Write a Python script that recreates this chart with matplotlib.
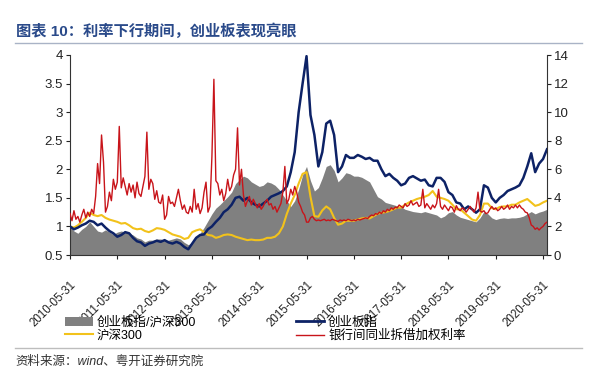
import numpy as np
import matplotlib
matplotlib.use('Agg')
import matplotlib.pyplot as plt
from matplotlib.lines import Line2D
from matplotlib.patches import Patch

plt.rcParams['font.family'] = ['Liberation Sans', 'Noto Sans CJK SC', 'DejaVu Sans']
plt.rcParams['axes.unicode_minus'] = False

title = '图表 10：利率下行期间，创业板表现亮眼'
source = '资料来源：wind、粤开证券研究院'
tick_labels = ['2010-05-31', '2011-05-31', '2012-05-31', '2013-05-31', '2014-05-31',
               '2015-05-31', '2016-05-31', '2017-05-31', '2018-05-31', '2019-05-31',
               '2020-05-31']
legend_labels = ['创业板指/沪深300', '沪深300', '创业板指', '银行间同业拆借加权利率']

# monthly values, 2010-05 ... 2020-06 (normalised, left axis)
cyb = [1.00, 0.95, 0.98, 1.02, 1.05, 1.10, 1.08, 1.02, 1.05, 0.98, 0.92, 0.88,
       0.82, 0.85, 0.90, 0.88, 0.80, 0.74, 0.72, 0.66, 0.70, 0.72, 0.75, 0.73,
       0.76, 0.72, 0.70, 0.73, 0.70, 0.64, 0.60, 0.70, 0.80, 0.85, 0.86, 0.95,
       1.00, 1.08, 1.15, 1.25, 1.30, 1.38, 1.50, 1.52, 1.45, 1.50, 1.42, 1.38,
       1.35, 1.40, 1.45, 1.52, 1.55, 1.58, 1.62, 1.70, 1.95, 2.30, 3.00, 3.50,
       3.98, 2.95, 2.60, 2.05, 2.30, 2.80, 2.85, 2.60, 1.95, 2.05, 2.25, 2.20,
       2.20, 2.25, 2.22, 2.18, 2.20, 2.15, 2.15, 2.00, 1.88, 1.92, 1.85, 1.80,
       1.72, 1.75, 1.85, 1.88, 1.84, 1.80, 1.82, 1.72, 1.70, 1.85, 1.85, 1.78,
       1.60, 1.55, 1.42, 1.40, 1.30, 1.35, 1.30, 1.24, 1.30, 1.72, 1.68, 1.50,
       1.42, 1.50, 1.55, 1.62, 1.65, 1.68, 1.72, 1.85, 2.05, 2.28, 1.95, 2.10,
       2.18, 2.35]

hs300 = [1.00, 0.98, 1.02, 1.08, 1.15, 1.24, 1.20, 1.18, 1.20, 1.15, 1.12, 1.10,
         1.08, 1.05, 1.06, 1.02, 0.97, 0.95, 0.96, 0.92, 0.90, 0.93, 0.97, 0.96,
         0.94, 0.90, 0.86, 0.84, 0.82, 0.78, 0.80, 0.90, 0.93, 0.95, 0.90, 0.85,
         0.84, 0.80, 0.82, 0.85, 0.86, 0.85, 0.82, 0.80, 0.78, 0.76, 0.77, 0.76,
         0.76, 0.77, 0.80, 0.80, 0.82, 0.88, 1.00, 1.22, 1.40, 1.55, 1.75, 1.92,
         1.95, 1.52, 1.18, 1.17, 1.28, 1.35, 1.30, 1.15, 1.03, 1.05, 1.10, 1.10,
         1.10, 1.12, 1.14, 1.15, 1.14, 1.18, 1.22, 1.24, 1.25, 1.27, 1.30, 1.33,
         1.33, 1.38, 1.42, 1.45, 1.48, 1.50, 1.52, 1.55, 1.62, 1.52, 1.50, 1.48,
         1.45, 1.38, 1.30, 1.30, 1.24, 1.18, 1.12, 1.10, 1.20, 1.40, 1.40, 1.32,
         1.30, 1.34, 1.35, 1.35, 1.38, 1.38, 1.42, 1.45, 1.48, 1.42, 1.36, 1.38,
         1.42, 1.45]

ratio = [1.00, 0.92, 0.88, 0.95, 1.00, 1.08, 1.00, 0.92, 0.90, 0.94, 0.90, 0.86,
         0.90, 0.92, 0.90, 0.88, 0.85, 0.80, 0.78, 0.73, 0.76, 0.76, 0.78, 0.78,
         0.76, 0.76, 0.78, 0.80, 0.78, 0.72, 0.68, 0.72, 0.82, 0.88, 0.98, 1.10,
         1.22, 1.32, 1.38, 1.45, 1.52, 1.60, 1.75, 1.82, 1.88, 1.85, 1.78, 1.74,
         1.70, 1.72, 1.78, 1.76, 1.72, 1.65, 1.55, 1.45, 1.35, 1.45, 1.65, 1.90,
         2.05, 1.80, 1.62, 1.68, 1.85, 2.05, 2.08, 1.98, 1.78, 1.85, 1.94, 1.92,
         1.88, 1.88, 1.86, 1.82, 1.78, 1.65, 1.52, 1.48, 1.42, 1.40, 1.38, 1.36,
         1.34, 1.30, 1.28, 1.26, 1.25, 1.24, 1.26, 1.24, 1.22, 1.20, 1.15, 1.18,
         1.24, 1.26, 1.20, 1.16, 1.14, 1.12, 1.10, 1.08, 1.15, 1.26, 1.22, 1.15,
         1.12, 1.14, 1.15, 1.14, 1.15, 1.15, 1.16, 1.18, 1.22, 1.26, 1.22, 1.25,
         1.27, 1.30]

# semi-monthly interbank weighted rate (%), right axis
rate = [2.9, 2.4, 3.1, 2.5, 2.7, 2.3, 2.8, 3.2, 2.6, 3.0, 2.7, 3.2,
        2.9, 4.1, 6.4, 5.0, 8.4, 6.5, 3.0, 3.4, 4.4, 3.8, 5.3, 4.6,
        5.1, 9.0, 4.7, 5.4, 4.8, 4.2, 5.0, 4.4, 4.9, 4.0, 5.1, 4.3,
        4.1, 4.8, 5.5, 8.6, 4.6, 5.3, 5.0, 3.9, 4.5, 3.7, 3.6, 4.2,
        2.5, 2.8, 4.1, 3.6, 3.7, 3.4, 4.0, 4.6, 3.8, 3.2, 3.5, 3.0,
        2.9, 3.4, 3.0, 4.6, 3.2, 3.6, 2.9, 3.3, 4.4, 5.1, 3.0, 3.4,
        6.9, 12.3, 5.2, 5.0, 4.2, 4.6, 3.8, 4.3, 5.3, 4.5, 4.8, 5.6,
        6.0, 8.9, 4.9, 6.0, 4.2, 3.4, 3.8, 4.1, 3.5, 3.9, 3.6, 3.3,
        3.6, 3.2, 3.4, 3.7, 3.9, 3.5, 3.6, 3.2, 3.4, 3.0, 3.3, 3.6,
        4.4, 6.2, 3.6, 3.9, 4.6, 4.2, 4.8, 4.4, 3.7, 3.4, 3.0, 2.8,
        2.3, 2.3, 2.6, 2.7, 2.5, 2.4, 2.45, 2.4, 2.45, 2.5, 2.4, 2.45,
        2.4, 2.5, 2.45, 2.4, 2.35, 2.45, 2.4, 2.45, 2.4, 2.5, 2.45, 2.4,
        2.45, 2.4, 2.5, 2.45, 2.5, 2.55, 2.6, 2.55, 2.7, 2.8, 2.75, 2.9,
        2.85, 3.0, 2.9, 3.1, 3.0, 3.2, 3.1, 3.3, 3.2, 3.35, 3.3, 3.5,
        3.4, 3.3, 3.6, 3.4, 3.5, 3.8, 3.5, 3.6, 3.7, 3.4, 3.5, 4.6,
        3.3, 3.6, 3.4, 3.2, 3.5, 3.3, 3.6, 4.6, 3.4, 3.2, 3.5, 3.3,
        3.1, 3.4, 3.3, 3.0, 3.45, 3.2, 3.1, 3.3, 3.2, 3.0, 3.2, 3.4,
        3.2, 3.0, 3.3, 4.4, 3.1, 3.0, 3.1, 2.9, 2.95, 3.2, 3.4, 3.2,
        3.3, 3.1, 3.2, 3.4, 3.2, 3.3, 3.5, 3.2, 3.4, 3.3, 3.5, 3.3,
        3.5, 3.3, 3.2, 3.0, 2.95, 2.6, 2.1, 2.0, 1.8, 1.9, 1.75, 1.9,
        2.0, 2.2, 2.3]

x_month = np.arange(len(cyb)) / 12.0
x_half = np.arange(len(rate)) / 24.0

W, H = 600, 374
fig = plt.figure(figsize=(W / 100, H / 100), dpi=100)
ax = fig.add_axes([70 / W, 1 - 255 / H, 477 / W, 200 / H])

c_gray = '#808080'
c_yel = '#f2c21b'
c_blue = '#0d2266'
c_red = '#c8141a'
c_txt = '#222222'

ax.fill_between(x_month, 0.5, ratio, color=c_gray, lw=0, zorder=1)
ax.plot(x_month, hs300, color=c_yel, lw=1.5, zorder=2)
ax.plot(x_month, cyb, color=c_blue, lw=1.8, zorder=3)

ax2 = ax.twinx()
ax2.plot(x_half, rate, color=c_red, lw=1.0, zorder=4)

ax.set_xlim(0, x_month[-1])
ax.set_ylim(0.5, 4)
ax2.set_ylim(0, 14)
ax.set_yticks(np.arange(0.5, 4.01, 0.5))
ax.set_yticklabels(['%g' % v for v in np.arange(0.5, 4.01, 0.5)])
ax2.set_yticks(np.arange(0, 15, 2))

ax.set_xticks(np.arange(len(tick_labels)))
ax.set_xticklabels(tick_labels, rotation=45, ha='right', rotation_mode='anchor')

for a in (ax, ax2):
    a.spines['top'].set_visible(False)
    for s in a.spines.values():
        s.set_color('#333333')
        s.set_linewidth(0.8)
ax.spines['right'].set_visible(False)
ax2.spines['left'].set_visible(False)
ax2.spines['bottom'].set_visible(False)

ax.tick_params(axis='y', direction='out', length=3, width=0.8, labelsize=9.5,
               colors=c_txt, pad=2)
ax.tick_params(axis='x', direction='out', length=3, width=0.8, labelsize=8.3,
               colors=c_txt, pad=14)
ax2.tick_params(axis='y', direction='out', length=3, width=0.8, labelsize=9.5,
                colors=c_txt, pad=2)

# title and rules
fig.text(16 / W, 1 - 31 / H, title, fontsize=11, fontweight='bold',
         color='#2a4a8a', va='center', ha='left')
fig.add_artist(Line2D([15 / W, 582 / W], [1 - 43 / H] * 2, color='#a9b3c6', lw=1.0))
fig.add_artist(Line2D([15 / W, 582 / W], [1 - 348 / H] * 2, color='#bdbdbd', lw=1.0))
fig.text(15 / W, 1 - 362 / H, source, fontsize=9, style='italic',
         color='#333333', va='center', ha='left')

handles = [Patch(facecolor=c_gray, edgecolor='none'),
           Line2D([], [], color=c_yel, lw=1.5),
           Line2D([], [], color=c_blue, lw=2.0),
           Line2D([], [], color=c_red, lw=1.0)]
leg = fig.legend(handles, legend_labels, ncol=2, loc='upper left',
                 bbox_to_anchor=(65 / W, 1 - 316 / H), frameon=False,
                 fontsize=9, handlelength=2.2, handletextpad=0.35,
                 columnspacing=8.0, labelspacing=0.1, borderaxespad=0,
                 borderpad=0)

fig.savefig('out.png', dpi=100)
